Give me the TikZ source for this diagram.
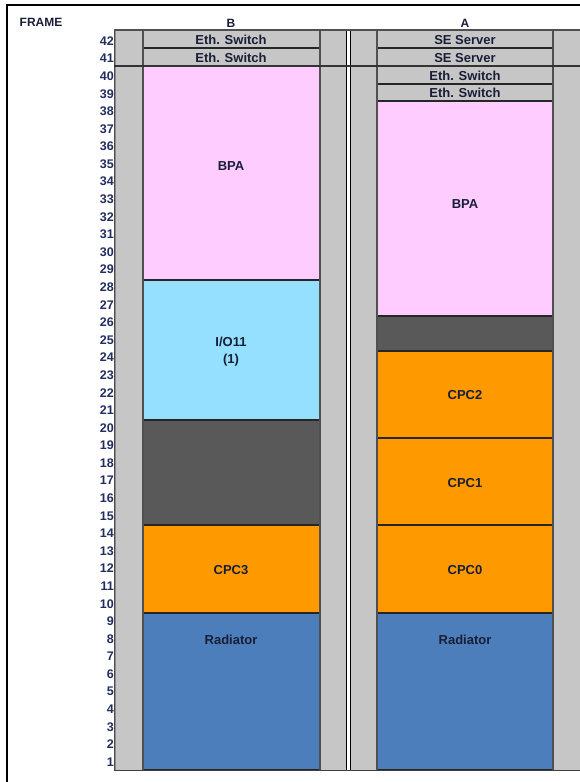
\documentclass[tikz,border=0pt]{standalone}
\usepackage{fontspec}
\setmainfont{Liberation Sans}
\definecolor{railc}{RGB}{198,198,198}
\definecolor{edgec}{RGB}{80,80,80}
\definecolor{pinkc}{RGB}{255,204,255}
\definecolor{cyanc}{RGB}{148,224,254}
\definecolor{darkc}{RGB}{89,89,89}
\definecolor{orangec}{RGB}{255,153,0}
\definecolor{radc}{RGB}{76,126,187}
\definecolor{txtc}{RGB}{25,30,55}
\definecolor{numc}{RGB}{35,45,95}
\tikzset{
  lbl/.style={font=\fontsize{13}{15}\selectfont\bfseries, text=txtc, inner sep=0pt},
  numlbl/.style={font=\fontsize{12.5}{14}\selectfont\bfseries, text=numc, inner sep=0pt, anchor=east},
  hdr/.style={font=\fontsize{12}{14}\selectfont\bfseries, text=txtc, inner sep=0pt},
  slot/.style={draw=black!85, line width=1.2pt},
  rail/.style={fill=railc, draw=black!45, line width=0.6pt},
  side/.style={draw=edgec, line width=2.6pt},
}
\begin{document}
\begin{tikzpicture}[x=1pt,y=-1pt]
\useasboundingbox (0,0) rectangle (580,782);
% outer frame (top and left edges)
\draw[black, line width=1.2pt] (7,782) -- (7,5) -- (580,5);
% headers
\node[hdr] (frame) at (41,22) {FRAME};
\node[hdr] (hb) at (231,23) {B};
\node[hdr] (ha) at (465,23) {A};
% rails
\path[rail] (115,30) rectangle (143,770);
\path[rail] (320,30) rectangle (346,770);
\path[rail] (350,30) rectangle (377,770);
\path[rail] (553,30) rectangle (580,770);
\draw[black, line width=0.8pt] (346,30) -- (346,770);
\draw[black, line width=0.8pt] (350,30) -- (350,770);
\draw[black!70, line width=0.9pt] (114.5,30) -- (114.5,770);
% ---- column B ----
\path[slot, fill=railc] (143,30) rectangle (320,48);
\path[slot, fill=railc] (143,48) rectangle (320,66);
\path[slot, fill=pinkc] (143,66) rectangle (320,280);
\path[slot, fill=cyanc] (143,280) rectangle (320,420);
\path[slot, fill=darkc] (143,420) rectangle (320,525);
\path[slot, fill=orangec] (143,525) rectangle (320,613);
\path[slot, fill=radc] (143,613) rectangle (320,770);
\draw[side] (143,30) -- (143,770);
\draw[side] (320,30) -- (320,770);
% ---- column A ----
\path[slot, fill=railc] (377,30) rectangle (553,48);
\path[slot, fill=railc] (377,48) rectangle (553,66);
\path[slot, fill=railc] (377,66) rectangle (553,84);
\path[slot, fill=railc] (377,84) rectangle (553,101);
\path[slot, fill=pinkc] (377,101) rectangle (553,316);
\path[slot, fill=darkc] (377,316) rectangle (553,351);
\path[slot, fill=orangec] (377,351) rectangle (553,438);
\path[slot, fill=orangec] (377,438) rectangle (553,525);
\path[slot, fill=orangec] (377,525) rectangle (553,613);
\path[slot, fill=radc] (377,613) rectangle (553,770);
\draw[side] (377,30) -- (377,770);
\draw[side] (553,30) -- (553,770);
% full-width lines
\draw[edgec, line width=1.8pt] (114,30) -- (580,30);
\draw[black!80, line width=1.4pt] (114,66) -- (580,66);
\draw[black!75, line width=1pt] (114,770) -- (580,770);
% labels B
\node[lbl] (b42) at (231,40) {Eth. Switch};
\node[lbl] (b41) at (231,58) {Eth. Switch};
\node[lbl] (bbpa) at (231,166) {BPA};
\node[lbl] (bio) at (231,342) {I/O11};
\node[lbl] (bio1) at (231,360) {(1)};
\node[lbl] (bcpc3) at (231,570) {CPC3};
\node[lbl] (brad) at (231,640) {Radiator};
% labels A
\node[lbl] (a42) at (465,40) {SE Server};
\node[lbl] (a41) at (465,58) {SE Server};
\node[lbl] (a40) at (465,76) {Eth. Switch};
\node[lbl] (a39) at (465,93) {Eth. Switch};
\node[lbl] (abpa) at (465,204) {BPA};
\node[lbl] (acpc2) at (465,395) {CPC2};
\node[lbl] (acpc1) at (465,483) {CPC1};
\node[lbl] (acpc0) at (465,570) {CPC0};
\node[lbl] (arad) at (465,640) {Radiator};
% row numbers
\foreach \n in {1,...,42} {
  \node[numlbl] (row\n) at (114,{41+(42-\n)*17.585}) {\n};
}
\end{tikzpicture}
\end{document}
